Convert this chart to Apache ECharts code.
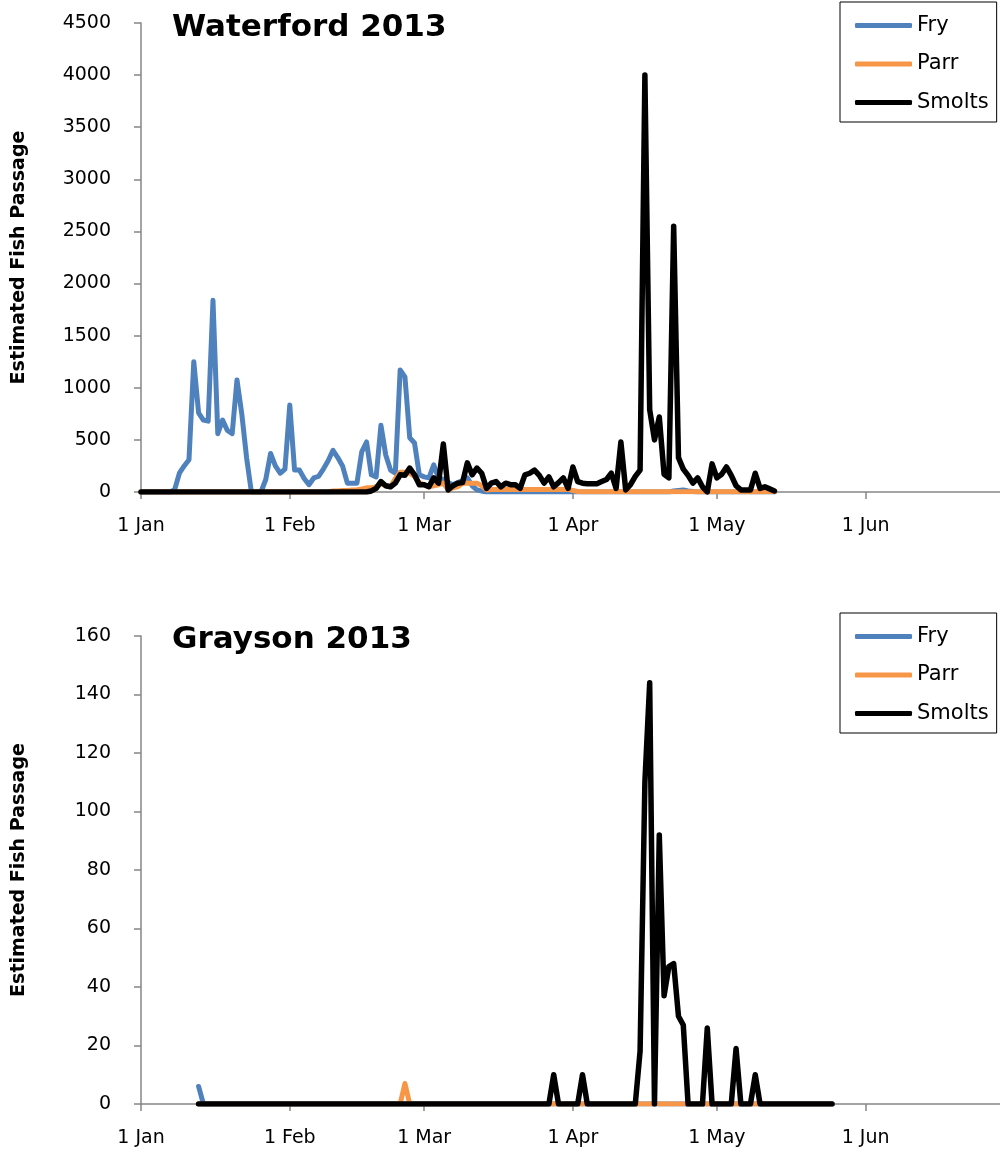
<!DOCTYPE html>
<html><head><meta charset="utf-8">
<script src="https://cdn.jsdelivr.net/npm/echarts@6/dist/echarts.min.js"></script>
<style>html,body{margin:0;padding:0;background:#fff}#c{width:1000px;height:1153px}</style>
</head><body><div id="c"></div>
<script>
// ---- axis / labels ----
const axisYear = 2013;
const axisDayCount = 180;              // 1 Jan .. 29 Jun
const monthNames = ['Jan','Feb','Mar','Apr','May','Jun','Jul','Aug','Sep','Oct','Nov','Dec'];
const seriesNames = ['Fry', 'Parr', 'Smolts'];
const chartTitles = ['Waterford 2013', 'Grayson 2013'];
const yAxisTitle = 'Estimated Fish Passage';
const topYTicks = [0, 4500, 500];      // min, max, interval
const bottomYTicks = [0, 160, 20];

// ---- Waterford 2013: daily values starting 1 Jan (day index 0) ----
const waterfordStartDay = 0;
const waterfordFry = [
  0,0,0,0,0,0,0,20,180,250,
  310,1250,760,690,680,1840,560,690,590,560,
  1075,750,330,0,0,0,120,370,250,180,
  220,835,210,210,130,70,135,150,220,300,
  400,330,250,85,85,85,385,480,165,145,
  640,355,210,180,1170,1105,520,470,165,145,
  135,260,135,120,90,70,90,110,135,60,
  20,10,0,0,0,0,0,0,0,0,
  0,0,0,0,0,0,0,0,0,0,
  0,0,0,0,0,0,0,0,0,0,
  0,0,0,0,0,0,0,0,0,0,
  0,10,15,20,10,5,0,0,0,0,
  0,0,0,0,0,0,0,0,0,0,
  0,0,0
];
const waterfordParr = [
  0,0,0,0,0,0,0,0,0,0,
  0,0,0,0,0,0,0,0,0,0,
  0,0,0,0,0,0,0,0,0,0,
  0,0,0,0,0,0,0,0,0,0,
  10,10,15,15,20,20,30,40,40,50,
  80,60,50,130,190,190,180,150,90,70,
  50,60,70,85,20,40,50,85,85,85,
  85,60,20,25,25,25,25,25,25,25,
  25,25,25,25,25,25,25,25,25,25,
  15,5,3,3,3,3,3,3,3,3,
  3,3,3,3,3,3,3,3,3,3,
  3,3,3,3,3,3,3,3,3,3,
  3,3,3,3,3,3,3,3,3,3,
  3,3,3
];
const waterfordSmolts = [
  0,0,0,0,0,0,0,0,0,0,
  0,0,0,0,0,0,0,0,0,0,
  0,0,0,0,0,0,0,0,0,0,
  0,0,0,0,0,0,0,0,0,0,
  0,0,0,0,0,0,0,0,10,35,
  100,60,50,85,165,160,230,165,70,70,
  50,135,85,460,20,60,85,90,280,165,
  230,180,35,85,100,50,85,70,70,35,
  165,180,210,160,85,145,50,90,135,35,
  240,100,85,80,80,80,100,120,180,35,
  480,20,70,150,210,4000,790,500,720,170,
  135,2550,330,220,160,85,135,50,0,270,
  135,170,240,160,60,20,20,20,180,35,
  50,30,10
];

// ---- Grayson 2013: daily values starting 13 Jan (day index 12) ----
const graysonStartDay = 12;
const graysonFry = [
  6,0,0,0,0,0,0,0,0,0,
  0,0,0,0,0,0,0,0,0,0,
  0,0,0,0,0,0,0,0,0,0,
  0,0,0,0,0,0,0,0,0,0,
  0,0,0,0,0,0,0,0,0,0,
  0,0,0,0,0,0,0,0,0,0,
  0,0,0,0,0,0,0,0,0,0,
  0,0,0,0,0,0,0,0,0,0,
  0,0,0,0,0,0,0,0,0,0,
  0,0,0,0,0,0,0,0,0,0,
  0,0,0,0,0,0,0,0,0,0,
  0,0,0,0,0,0,0,0,0,0,
  0,0,0,0,0,0,0,0,0,0,
  0,0,0
];
const graysonParr = [
  0,0,0,0,0,0,0,0,0,0,
  0,0,0,0,0,0,0,0,0,0,
  0,0,0,0,0,0,0,0,0,0,
  0,0,0,0,0,0,0,0,0,0,
  0,0,0,7,0,0,0,0,0,0,
  0,0,0,0,0,0,0,0,0,0,
  0,0,0,0,0,0,0,0,0,0,
  0,0,0,0,0,0,0,0,0,0,
  0,0,0,0,0,0,0,0,0,0,
  0,0,0,0,0,0,0,0,0,0,
  0,0,0,0,0,0,0,0,0,0,
  0,0,0,0,0,0,0,0,0,0,
  0,0,0,0,0,0,0,0,0,0,
  0,0,0
];
const graysonSmolts = [
  0,0,0,0,0,0,0,0,0,0,
  0,0,0,0,0,0,0,0,0,0,
  0,0,0,0,0,0,0,0,0,0,
  0,0,0,0,0,0,0,0,0,0,
  0,0,0,0,0,0,0,0,0,0,
  0,0,0,0,0,0,0,0,0,0,
  0,0,0,0,0,0,0,0,0,0,
  0,0,0,0,10,0,0,0,0,0,
  10,0,0,0,0,0,0,0,0,0,
  0,0,18,110,144,0,92,37,47,48,
  30,27,0,0,0,0,26,0,0,0,
  0,0,19,0,0,0,10,0,0,0,
  0,0,0,0,0,0,0,0,0,0,
  0,0,0
];

// ---- build chart ----
const FONT = 'DejaVu Sans';
const colors = ['#4F81BD', '#F79646', '#000000'];
const widths = [5, 5, 5.5];

const dayLabels = [];
for (let i = 0; i < axisDayCount; i++) {
  const d = new Date(axisYear, 0, 1 + i);
  dayLabels.push(d.getDate() + ' ' + monthNames[d.getMonth()]);
}
const isMonthStart = (idx, val) => /^1 /.test(val);

function pairs(arr, start) { return arr.map((v, i) => [start + i, v]); }

function xAxis(gridIndex) {
  return {
    type: 'category', gridIndex, data: dayLabels, boundaryGap: false,
    axisLine: { lineStyle: { color: '#868686', width: 1.5 } },
    axisTick: { show: true, interval: isMonthStart, length: 7, lineStyle: { color: '#868686', width: 1.5 } },
    axisLabel: { interval: isMonthStart, margin: 25, color: '#000', fontFamily: FONT, fontSize: 19 },
    splitLine: { show: false }
  };
}
function yAxis(gridIndex, t) {
  return {
    type: 'value', gridIndex, min: t[0], max: t[1], interval: t[2],
    name: yAxisTitle, nameLocation: 'middle', nameRotate: 90, nameGap: 112,
    nameTextStyle: { color: '#000', fontFamily: FONT, fontSize: 19, fontWeight: 'bold' },
    axisLine: { show: true, lineStyle: { color: '#868686', width: 1.5 } },
    axisTick: { show: true, length: 7, lineStyle: { color: '#868686', width: 1.5 } },
    axisLabel: { margin: 30, color: '#000', fontFamily: FONT, fontSize: 19, formatter: v => String(v) },
    splitLine: { show: false }
  };
}
function legend(top) {
  return {
    orient: 'vertical', left: 840, top, data: seriesNames, icon: 'roundRect',
    itemWidth: 57, itemHeight: 5, itemGap: 17.5, padding: [13, 8, 9, 15],
    borderColor: '#000', borderWidth: 1, selectedMode: false,
    textStyle: { color: '#000', fontFamily: FONT, fontSize: 21, lineHeight: 21 }
  };
}
function line(name, idx, data, start, axis) {
  return {
    name, type: 'line', xAxisIndex: axis, yAxisIndex: axis, data: pairs(data, start),
    showSymbol: false, symbol: 'none', animation: false, z: 2 + idx,
    lineStyle: { color: colors[idx], width: widths[idx], join: 'round', cap: 'round' },
    itemStyle: { color: colors[idx] }
  };
}

const chart = echarts.init(document.getElementById('c'), null, { renderer: 'canvas' });
chart.setOption({
  animation: false,
  backgroundColor: '#fff',
  title: [
    { text: chartTitles[0], left: 172, top: 12, padding: 0, textStyle: { color: '#000', fontFamily: FONT, fontSize: 31, fontWeight: 'bold' } },
    { text: chartTitles[1], left: 172, top: 624, padding: 0, textStyle: { color: '#000', fontFamily: FONT, fontSize: 31, fontWeight: 'bold' } }
  ],
  legend: [legend(2), legend(613)],
  grid: [
    { left: 141, right: 0, top: 23, height: 469 },
    { left: 141, right: 0, top: 636, height: 468 }
  ],
  xAxis: [xAxis(0), xAxis(1)],
  yAxis: [yAxis(0, topYTicks), yAxis(1, bottomYTicks)],
  series: [
    line(seriesNames[0], 0, waterfordFry, waterfordStartDay, 0),
    line(seriesNames[1], 1, waterfordParr, waterfordStartDay, 0),
    line(seriesNames[2], 2, waterfordSmolts, waterfordStartDay, 0),
    line(seriesNames[0], 0, graysonFry, graysonStartDay, 1),
    line(seriesNames[1], 1, graysonParr, graysonStartDay, 1),
    line(seriesNames[2], 2, graysonSmolts, graysonStartDay, 1)
  ]
});
</script></body></html>
